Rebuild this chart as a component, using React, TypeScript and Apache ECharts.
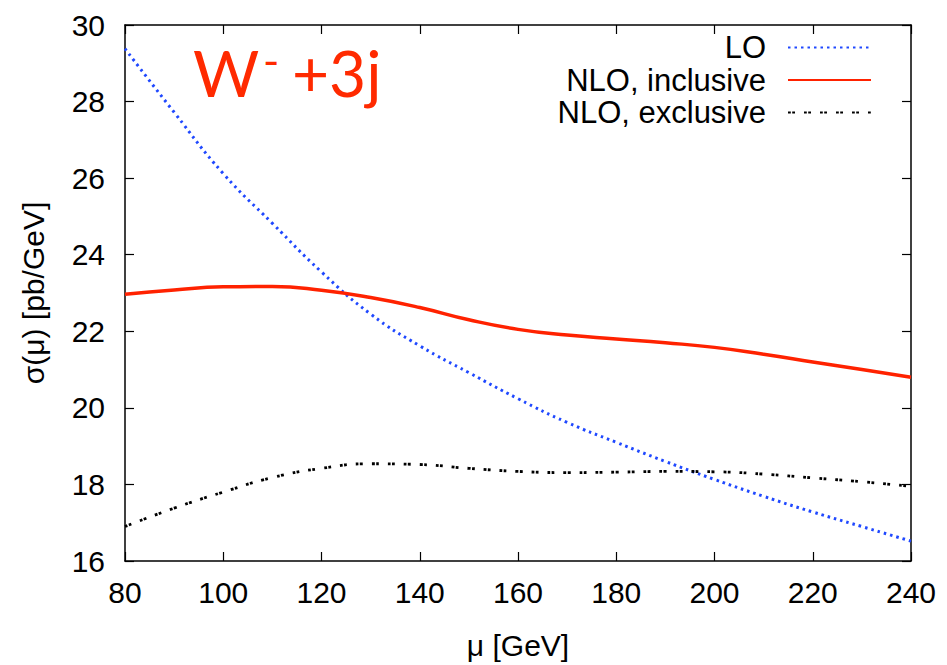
import React, { useEffect, useRef } from "react";
import * as echarts from "echarts";

const mu = [80, 90, 100, 110, 120, 130, 140, 150, 160, 170, 180, 190, 200, 210, 220, 230, 240];
const lo = [29.38, 27.72, 26.12, 24.82, 23.55, 22.45, 21.62, 20.92, 20.24, 19.62, 19.1, 18.6, 18.13, 17.69, 17.28, 16.9, 16.52];
const nloInclusive = [22.97, 23.08, 23.16, 23.17, 23.07, 22.88, 22.62, 22.3, 22.05, 21.9, 21.8, 21.7, 21.58, 21.4, 21.2, 21.0, 20.8];
const nloExclusive = [16.9, 17.38, 17.8, 18.18, 18.42, 18.54, 18.52, 18.42, 18.34, 18.31, 18.32, 18.34, 18.33, 18.27, 18.17, 18.07, 17.95];

const seriesNames = ["LO", "NLO, inclusive", "NLO, exclusive"];
const xTicks = { min: 80, max: 240, interval: 20 };
const yTicks = { min: 16, max: 30, interval: 2 };

const FONT = "'Liberation Sans', Arial, Helvetica, sans-serif";

export default function App() {
  const ref = useRef<HTMLDivElement>(null);
  useEffect(() => {
    if (!ref.current) return;
    const chart = echarts.init(ref.current, undefined, { renderer: "svg" });
    const pairs = (ys: number[]) => mu.map((m, i) => [m, ys[i]]);
    const axisCommon = {
      axisLine: { show: true, lineStyle: { color: "#000", width: 1.5 } },
      axisTick: { show: true, inside: true, length: 9, lineStyle: { color: "#000", width: 1.2 } },
      splitLine: { show: false },
    };
    chart.setOption({
      animation: false,
      backgroundColor: "#fff",
      textStyle: { fontFamily: FONT },
      grid: { left: 125, right: 36, top: 25, bottom: 100, containLabel: false },
      legend: {
        orient: "vertical",
        align: "right",
        right: 75,
        top: 32,
        padding: 0,
        itemWidth: 83,
        itemHeight: 31,
        itemGap: 1.5,
        itemStyle: { opacity: 0 },
        data: seriesNames,
        textStyle: { fontFamily: FONT, fontSize: 31, color: "#000", padding: [0, 17, 0, 0], lineHeight: 31 },
      },
      xAxis: [
        {
          type: "value",
          position: "bottom",
          ...xTicks,
          ...axisCommon,
          axisLabel: { fontSize: 30, color: "#000", margin: 16, fontFamily: FONT },
          name: "\u03bc [GeV]",
          nameLocation: "middle",
          nameGap: 69,
          nameTextStyle: { fontSize: 30, color: "#000", fontFamily: FONT },
        },
        {
          type: "value",
          position: "top",
          ...xTicks,
          ...axisCommon,
          axisLabel: { show: false },
        },
      ],
      yAxis: [
        {
          type: "value",
          position: "left",
          ...yTicks,
          ...axisCommon,
          axisLabel: { fontSize: 30, color: "#000", margin: 20, fontFamily: FONT },
          name: "\u03c3(\u03bc) [pb/GeV]",
          nameLocation: "middle",
          nameGap: 77,
          nameTextStyle: { fontSize: 30, color: "#000", fontFamily: FONT },
        },
        {
          type: "value",
          position: "right",
          ...yTicks,
          ...axisCommon,
          axisLabel: { show: false },
        },
      ],
      series: [
        {
          name: seriesNames[0],
          type: "line",
          data: pairs(lo),
          smooth: true,
          symbol: "none",
          lineStyle: { color: "#1f48ff", width: 3, type: [2.5, 4] },
          itemStyle: { color: "#1f48ff" },
        },
        {
          name: seriesNames[1],
          type: "line",
          data: pairs(nloInclusive),
          smooth: true,
          symbol: "none",
          lineStyle: { color: "#ff2200", width: 3.5, type: "solid" },
          itemStyle: { color: "#ff2200" },
        },
        {
          name: seriesNames[2],
          type: "line",
          data: pairs(nloExclusive),
          smooth: true,
          symbol: "none",
          lineStyle: { color: "#000", width: 2.8, type: [2.8, 1.4, 2.8, 9] },
          itemStyle: { color: "#000" },
        },
      ],
      graphic: [
        {
          type: "text",
          left: 193,
          top: 40,
          style: { text: "W", fontSize: 64, fill: "#ff2a00", fontFamily: "Lato, 'Open Sans', sans-serif" },
        },
        {
          type: "text",
          left: 263,
          top: 38,
          style: { text: "-", fontSize: 44, fill: "#ff2a00", fontFamily: "Lato, 'Open Sans', sans-serif" },
        },
        {
          type: "text",
          left: 292,
          top: 40,
          style: { text: "+3j", fontSize: 64, fill: "#ff2a00", fontFamily: "Lato, 'Open Sans', sans-serif" },
        },
      ],
    });
    return () => chart.dispose();
  }, []);
  return (
    <div
      ref={ref}
      style={{ position: "absolute", left: 0, top: 0, width: 947, height: 665 }}
    />
  );
}
